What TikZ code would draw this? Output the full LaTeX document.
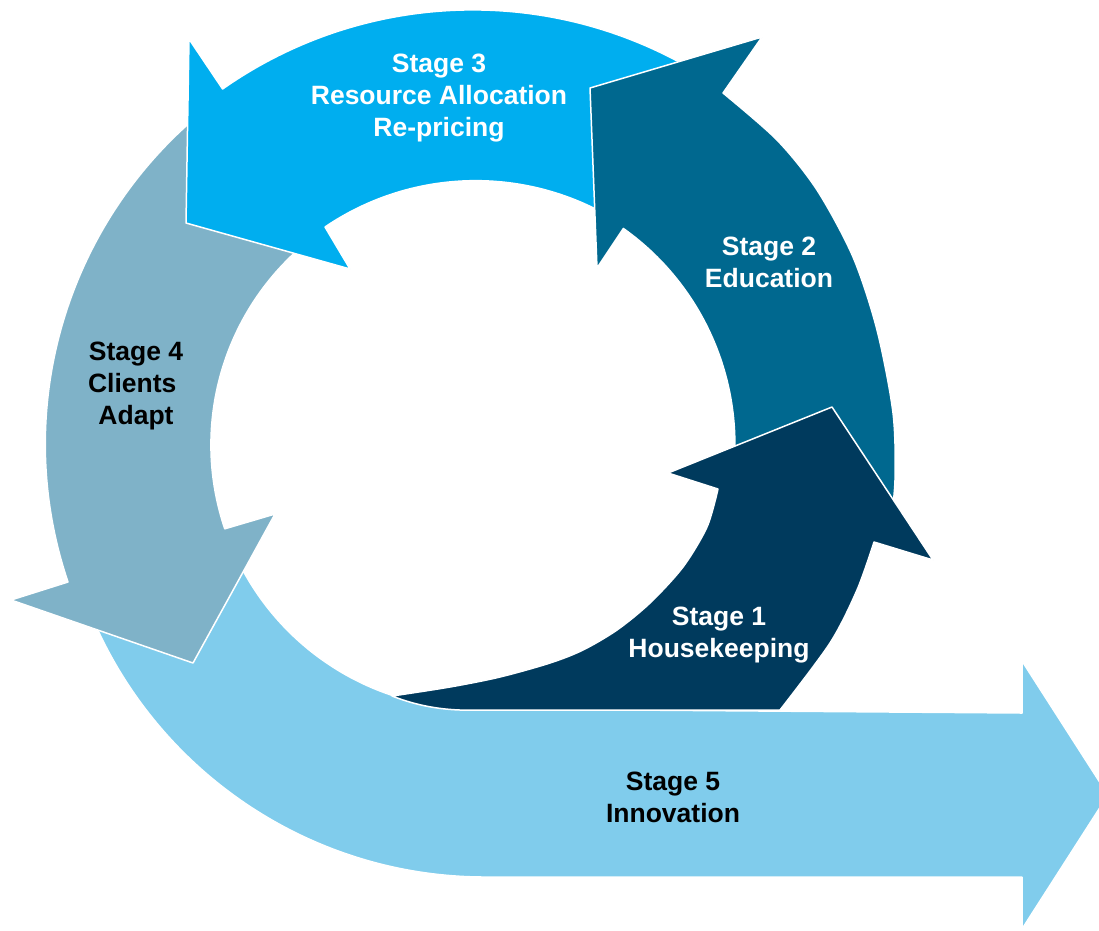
\documentclass[tikz,border=0pt]{standalone}
\usepackage{fontspec}
\setmainfont{Liberation Sans}
\definecolor{sfive}{HTML}{80CCEC}
\definecolor{sfour}{HTML}{7FB2C8}
\definecolor{sthree}{HTML}{00AEEF}
\definecolor{stwo}{HTML}{00688F}
\definecolor{sone}{HTML}{003A5D}
\tikzset{
  arrowshape/.style={draw=white, line width=1.5pt, line join=round},
  lbl/.style={font=\fontsize{26.5}{32}\selectfont\bfseries, align=center, inner sep=0pt}
}
\begin{document}
\begin{tikzpicture}[x=1pt,y=-1pt]
\useasboundingbox (0,0) rectangle (1099,930);
\clip (0,0) rectangle (1099,930);
% Stage 5
\filldraw[arrowshape, fill=sfive] (1022,713) -- (1022,661) -- (1108,795) -- (1022,929) -- (1022,877) -- (485,877)
  arc[start angle=90, end angle=158, radius=427] -- (233,550)
  arc[start angle=156.4, end angle=92, radius=265] -- cycle;
% Stage 4
\filldraw[arrowshape, fill=sfour] (68,582)
  arc[start angle=161.3, end angle=233.7, radius=430] -- (300,248)
  arc[start angle=228.7, end angle=161.3, radius=262] -- (275,514) -- (193,663) -- (11,600) -- cycle;
% Stage 3
\filldraw[arrowshape, fill=sthree] (325,227)
  arc[start angle=-124.2, end angle=-58, radius=268] -- (700,74)
  arc[start angle=-58.5, end angle=-125.1, radius=435] -- (189,39) -- (186,223) -- (350,269) -- cycle;
% Stage 2
\filldraw[arrowshape, fill=stwo] (590,88) -- (762,37) -- (723,93)
  -- plot[smooth] coordinates {(723,93) (777,140) (817,190) (853,257) (877,330) (893,413) (895,480) (890,530)}
  -- (729,500) arc[start angle=12.1, end angle=-54.6, radius=265] -- (597,268) -- cycle;
% Stage 1
\filldraw[arrowshape, fill=sone] (392,696)
  -- plot[smooth] coordinates {(392,696) (450,687) (500,677) (550,663) (583,650) (617,630) (650,603) (683,567) (707,527) (718,489)}
  -- (668,473) -- (832,407) -- (933,560) -- (874,542)
  -- plot[smooth] coordinates {(874,542) (857,590) (830,643) (780,710)}
  -- (460,710) .. controls (432,709) and (410,703) .. (392,696) -- cycle;
% Labels
\node[lbl, text=white] (t3) at (439,98) {Stage 3\\Resource Allocation\\Re-pricing};
\node[lbl, text=white] (t2) at (769,262) {Stage 2\\Education};
\node[lbl] (t4) at (136,386) {Stage 4\\Clients\hbox to 0.28em{}\\Adapt};
\node[lbl, text=white] (t1) at (719,635) {Stage 1\\Housekeeping};
\node[lbl] (t5) at (673,797) {Stage 5\\Innovation};
\end{tikzpicture}
\end{document}
